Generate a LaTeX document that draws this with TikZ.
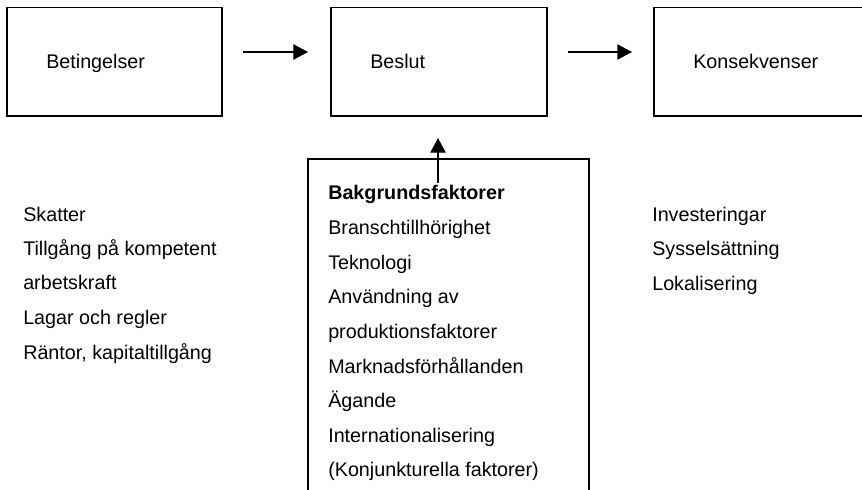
\documentclass[tikz,border=0pt]{standalone}
\usepackage{fontspec}
\setmainfont{Liberation Sans}
\usetikzlibrary{arrows.meta}
\begin{document}
\begin{tikzpicture}[x=0.75pt,y=-0.75pt,
  box/.style={draw,line width=1.2pt},
  lbl/.style={anchor=base west,inner sep=0pt,font=\fontsize{14.8}{17}\selectfont},
  conn/.style={line width=0.8pt,-{Triangle[length=11pt,width=11.5pt]}}]
\useasboundingbox (0,0) rectangle (862,489);
\clip (0,0) rectangle (862,489);
% top boxes
\draw[box] (7,7.5) rectangle (222,116);
\draw[box] (331,7.5) rectangle (547,116);
\draw[box] (654,7.5) rectangle (880,116);
\node[lbl] (bet) at (46,68) {Betingelser};
\node[lbl] (bes) at (370,68) {Beslut};
\node[lbl] (kon) at (693,68) {Konsekvenser};
% arrows
\coordinate (a1s) at (243,52);
\coordinate (a1e) at (308,52);
\coordinate (a2s) at (568,52);
\coordinate (a2e) at (632,52);
\draw[conn] (a1s) -- (a1e);
\draw[conn] (a2s) -- (a2e);
% bottom box
\draw[box] (308,500) -- (308,159) -- (589,159) -- (589,500);
\coordinate (a3s) at (438,183);
\coordinate (a3e) at (438,138);
\draw[conn] (a3s) -- (a3e);
\node[lbl,font=\fontsize{14.8}{17}\selectfont\bfseries] (b0) at (328,199) {Bakgrundsfaktorer};
\node[lbl] (b1) at (328,234) {Branschtillhörighet};
\node[lbl] (b2) at (328,269) {Teknologi};
\node[lbl] (b3) at (328,303) {Användning av};
\node[lbl] (b4) at (328,338) {produktionsfaktorer};
\node[lbl] (b5) at (328,373) {Marknadsförhållanden};
\node[lbl] (b6) at (328,407) {Ägande};
\node[lbl] (b7) at (328,442) {Internationalisering};
\node[lbl] (b8) at (328,476) {(Konjunkturella faktorer)};
% left list
\node[lbl] (l1) at (23,221) {Skatter};
\node[lbl] (l2) at (23,255) {Tillgång på kompetent};
\node[lbl] (l3) at (23,289) {arbetskraft};
\node[lbl] (l4) at (23,324) {Lagar och regler};
\node[lbl] (l5) at (23,359) {Räntor, kapitaltillgång};
% right list
\node[lbl] (r1) at (652,221) {Investeringar};
\node[lbl] (r2) at (652,255) {Sysselsättning};
\node[lbl] (r3) at (652,290) {Lokalisering};
\end{tikzpicture}
\end{document}
